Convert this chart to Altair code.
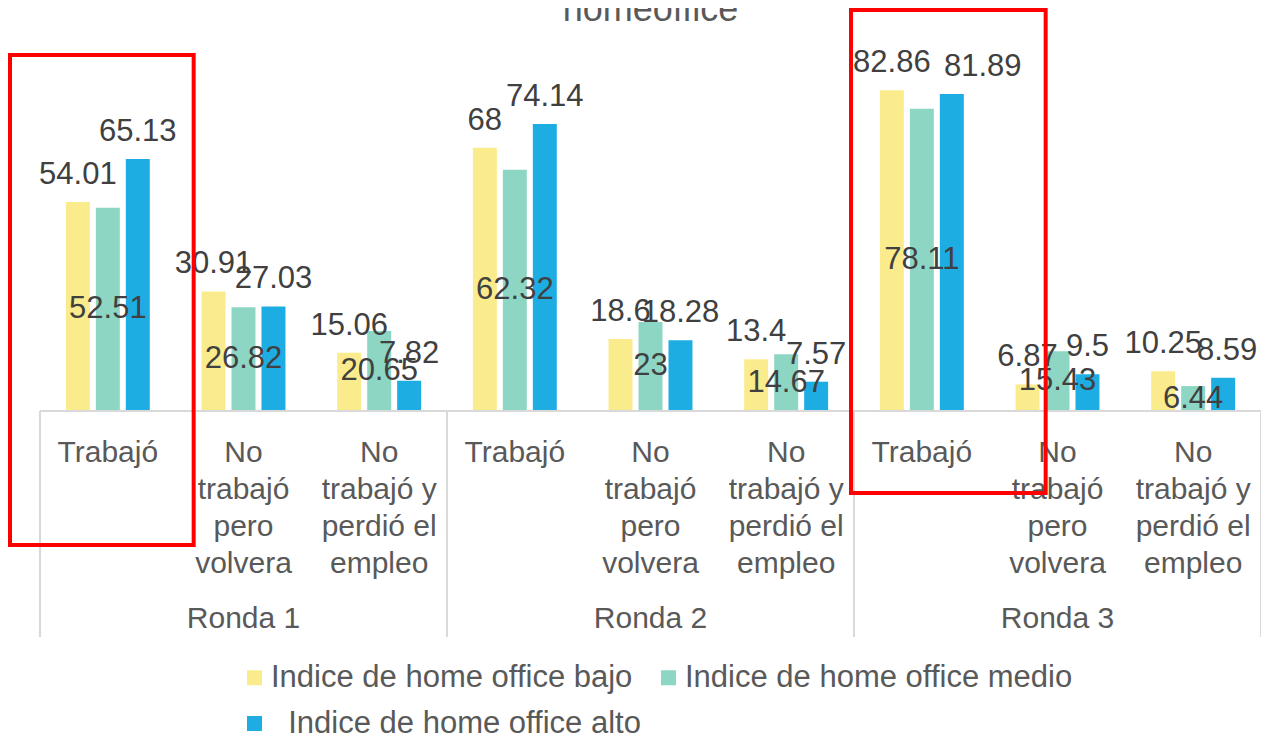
import altair as alt
import pandas as pd

rondas = ["Ronda 1", "Ronda 2", "Ronda 3"]
categorias = ["Trabajó", "No trabajó pero volvera", "No trabajó y perdió el empleo"]
cat_labels = ["Trabajó", "No\ntrabajó\npero\nvolvera", "No\ntrabajó y\nperdió el\nempleo"]
series = ["Indice de home office bajo", "Indice de home office medio", "Indice de home office alto"]
bajo = [54.01, 30.91, 15.06, 68, 18.6, 13.4, 82.86, 6.87, 10.25]
medio = [52.51, 26.82, 20.65, 62.32, 23, 14.67, 78.11, 15.43, 6.44]
alto = [65.13, 27.03, 7.82, 74.14, 18.28, 7.57, 81.89, 9.5, 8.59]
colors = ["#FAEC8C", "#8ED6C4", "#1EADE3"]
title_text = "homeoffice"

FONT = "Liberation Sans"
keys = [f"{r}|{c}" for r in rondas for c in categorias]

rows = []
for i, k in enumerate(keys):
    for s, vals in zip(series, [bajo, medio, alto]):
        rows.append({"key": k, "serie": s, "value": vals[i], "label": f"{vals[i]:g}"})
df = pd.DataFrame(rows)

W, H = 1221, 387
xscale = alt.Scale(domain=keys, paddingInner=0, paddingOuter=0)
yscale = alt.Scale(domain=[0, 100], nice=False, zero=False)
offscale = alt.Scale(domain=series, paddingInner=0.2, paddingOuter=0.863)

X = alt.X("key:N", scale=xscale, axis=None)
XO = alt.XOffset("serie:N", scale=offscale)

base = alt.Chart(df)

legend = alt.Legend(
    title=None, orient="none", legendX=199, legendY=638,
    direction="horizontal", columns=2, symbolType="square",
    symbolSize=225, symbolStrokeWidth=0, labelFont=FONT,
    labelFontSize=31, labelColor="#595959", labelOffset=1,
    rowPadding=14, columnPadding=12, padding=0, labelLimit=0,
    labelExpr="datum.label == 'Indice de home office alto' ? '\u200b\u00a0\u00a0Indice de home office alto' : datum.label",
)

bars = base.mark_bar().encode(
    x=X, xOffset=XO,
    y=alt.Y("value:Q", scale=yscale, axis=None),
    color=alt.Color("serie:N", scale=alt.Scale(domain=series, range=colors), legend=legend),
)

# Excel nudged two labels sideways to avoid overlap
nudged = {keys[6]: 31, keys[8]: 4}


def out_labels(flt, dx):
    return base.transform_filter(flt).mark_text(
        font=FONT, fontSize=31, color="#404040", dy=-18, dx=dx, baseline="alphabetic"
    ).encode(x=X, xOffset=XO, y=alt.Y("value:Q", scale=yscale, axis=None), text="label:N")


not_nudged = "!(datum.serie == '%s' && (datum.key == '%s' || datum.key == '%s'))" % (series[2], keys[6], keys[8])
lab_out = out_labels(f"datum.serie != '{series[1]}' && {not_nudged}", 0)
lab_n1 = out_labels(f"datum.serie == '{series[2]}' && datum.key == '{keys[6]}'", nudged[keys[6]])
lab_n2 = out_labels(f"datum.serie == '{series[2]}' && datum.key == '{keys[8]}'", nudged[keys[8]])

lab_mid = base.transform_filter(alt.datum.serie == series[1]).transform_calculate(
    mid="datum.value / 2"
).mark_text(font=FONT, fontSize=31, color="#404040", baseline="middle").encode(
    x=X, xOffset=XO, y=alt.Y("mid:Q", scale=yscale, axis=None), text="label:N"
)

baseline = alt.Chart(pd.DataFrame({"z": [0]})).mark_rule(color="#D9D9D9", strokeWidth=2).encode(
    y=alt.Y("z:Q", scale=yscale, axis=None)
)
seps = alt.Chart(pd.DataFrame({"key": [keys[0], keys[3], keys[6]]})).mark_rule(
    color="#D9D9D9", strokeWidth=2
).encode(x=alt.X("key:N", scale=xscale, bandPosition=0, axis=None), y=alt.value(387), y2=alt.value(613))
sep_end = alt.Chart(pd.DataFrame({"key": [keys[8]]})).mark_rule(color="#D9D9D9", strokeWidth=2).encode(
    x=alt.X("key:N", scale=xscale, bandPosition=1, axis=None), y=alt.value(387), y2=alt.value(613)
)

cat_text = alt.Chart(pd.DataFrame({"key": keys, "lab": cat_labels * 3})).mark_text(
    font=FONT, fontSize=30, color="#595959", lineBreak="\n", lineHeight=37,
    baseline="alphabetic", align="center"
).encode(x=X, y=alt.value(438), text="lab:N")

ronda_text = alt.Chart(pd.DataFrame({"key": [keys[1], keys[4], keys[7]], "ronda": rondas})).mark_text(
    font=FONT, fontSize=30, color="#595959", baseline="alphabetic", align="center"
).encode(x=X, y=alt.value(604), text="ronda:N")

title = alt.Chart(pd.DataFrame({"key": [keys[4]], "t": [title_text]})).mark_text(
    font=FONT, fontSize=36, color="#595959", baseline="alphabetic", align="center"
).encode(x=X, y=alt.value(-3), text="t:N")


def box(k, top, bot, xo, x2o):
    return alt.Chart(pd.DataFrame({"key": [k], "top": [top], "bot": [bot]})).mark_rect(
        fillOpacity=0, stroke="#FF0000", strokeWidth=4, xOffset=xo, x2Offset=x2o
    ).encode(
        x=alt.X("key:N", scale=xscale, bandPosition=0, axis=None),
        x2=alt.X2("key", bandPosition=1),
        y=alt.Y("top:Q", scale=yscale, axis=None), y2="bot:Q",
    )


box1 = box(keys[0], 92.0, -34.6, -30, 18)
box2 = box(keys[6], 103.6, -21.2, -3, 56)

chart = alt.layer(
    bars, lab_out, lab_n1, lab_n2, lab_mid, baseline, seps, sep_end,
    cat_text, ronda_text, title, box1, box2
).properties(
    width=W, height=H,
    autosize=alt.AutoSizeParams(type="none"),
    padding={"left": 32, "top": 16, "right": 0, "bottom": 323},
).configure_view(stroke=None)

chart.save("out.html", embed_options={"renderer": "svg", "actions": False})
